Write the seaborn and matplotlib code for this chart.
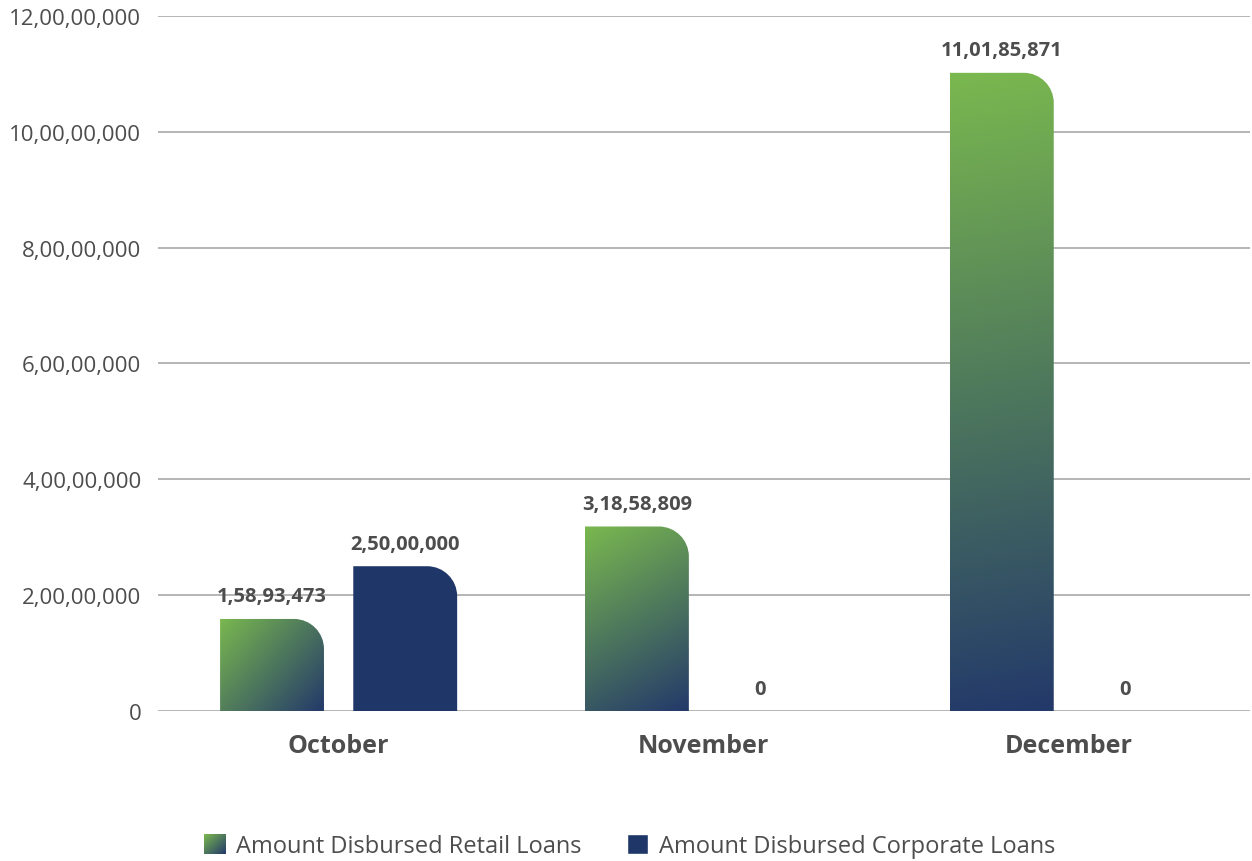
import numpy as np
import pandas as pd
import matplotlib
matplotlib.use("Agg")
import matplotlib.pyplot as plt
import seaborn as sns
from matplotlib.path import Path
from matplotlib.patches import PathPatch, Patch
from matplotlib.colors import LinearSegmentedColormap
from matplotlib.legend_handler import HandlerBase
from matplotlib.image import BboxImage
from matplotlib.transforms import Bbox, TransformedBbox

# ---- data ----
months = ["October", "November", "December"]
retail = [15893473, 31858809, 110185871]
corporate = [25000000, 0, 0]
series_names = ["Amount Disbursed Retail Loans", "Amount Disbursed Corporate Loans"]
ytick_values = [0, 20000000, 40000000, 60000000, 80000000, 100000000, 120000000]
ytick_labels = ["0", "2,00,00,000", "4,00,00,000", "6,00,00,000",
                "8,00,00,000", "10,00,00,000", "12,00,00,000"]

GREEN = "#7ab84f"
NAVY = "#1f3768"
TEXT = "#4d4d4d"
GRID = "#b5b5b5"

grad_cmap = LinearSegmentedColormap.from_list("retail_grad", [GREEN, "#23396a"])


def indian_format(v):
    s = str(int(v))
    if len(s) <= 3:
        return s
    last3 = s[-3:]
    rest = s[:-3]
    parts = []
    while len(rest) > 2:
        parts.insert(0, rest[-2:])
        rest = rest[:-2]
    if rest:
        parts.insert(0, rest)
    return ",".join(parts + [last3])


df = pd.DataFrame({
    "month": months * 2,
    "amount": retail + corporate,
    "series": [series_names[0]] * 3 + [series_names[1]] * 3,
})

sns.set_style("white")
plt.rcParams["font.family"] = ["Open Sans", "DejaVu Sans"]

fig = plt.figure(figsize=(12.52, 8.62), dpi=100)
ax = fig.add_axes([0.1262, 0.174, 0.872, 0.8063])

sns.barplot(data=df, x="month", y="amount", hue="series", order=months,
            hue_order=series_names, palette=[GREEN, NAVY], saturation=1,
            width=0.73, dodge=True, gap=0.22, ax=ax, legend=False,
            errorbar=None)

ax.set_xlim(-0.495, 2.497)
ax.set_ylim(0, 120000000)
ax.set_yticks(ytick_values)
ax.set_yticklabels(ytick_labels)
ax.yaxis.grid(True, color=GRID, linewidth=1.4)
ax.set_axisbelow(True)
for s in ax.spines.values():
    s.set_visible(False)
ax.tick_params(axis="y", length=0, pad=12, labelsize=16, labelcolor=TEXT)
ax.tick_params(axis="x", length=0, pad=16, labelsize=18, labelcolor=TEXT)
for t in ax.get_xticklabels():
    t.set_fontweight("bold")
ax.set_xlabel("")
ax.set_ylabel("")

# corner radius in pixels, converted into data units
px_per_x = ax.get_window_extent().width / (ax.get_xlim()[1] - ax.get_xlim()[0])
px_per_y = ax.get_window_extent().height / (ax.get_ylim()[1] - ax.get_ylim()[0])
radius_px = 30
K = 0.5523


def rounded_bar_path(x0, x1, top):
    rx = radius_px / px_per_x
    ry = min(radius_px / px_per_y, top)
    verts = [
        (x0, 0), (x0, top), (x1 - rx, top),
        (x1 - rx + K * rx, top), (x1, top - ry + K * ry), (x1, top - ry),
        (x1, 0), (x0, 0),
    ]
    codes = [Path.MOVETO, Path.LINETO, Path.LINETO,
             Path.CURVE4, Path.CURVE4, Path.CURVE4,
             Path.LINETO, Path.CLOSEPOLY]
    return Path(verts, codes)


def corner_gradient(w_px, h_px, n=200):
    """Linear gradient running from the top-left to the bottom-right corner."""
    u = np.linspace(0, 1, n)
    U, V = np.meshgrid(u, u)
    t = (U * w_px ** 2 + V * h_px ** 2) / (w_px ** 2 + h_px ** 2)
    return grad_cmap(t)[..., :3]


for ci, container in enumerate(ax.containers):
    is_retail = ci == 0
    for bar in container:
        h = bar.get_height()
        x0 = bar.get_x()
        x1 = x0 + bar.get_width()
        bar.set_visible(False)
        if h > 0:
            path = rounded_bar_path(x0, x1, h)
            if is_retail:
                clip = PathPatch(path, facecolor="none", edgecolor="none",
                                 transform=ax.transData)
                ax.add_patch(clip)
                img = corner_gradient((x1 - x0) * px_per_x, h * px_per_y)
                im = ax.imshow(img, extent=(x0, x1, 0, h), origin="upper",
                               aspect="auto", interpolation="bilinear", zorder=2)
                im.set_clip_path(clip)
            else:
                ax.add_patch(PathPatch(path, facecolor=NAVY, edgecolor="none",
                                       zorder=2))
        dx = -7 if h == 0 else 0
        ax.annotate(indian_format(h), xy=(x0 + (x1 - x0) / 2, h),
                    xytext=(dx, 9), textcoords="offset points", ha="center",
                    va="bottom", fontsize=14.5, fontweight="bold", color=TEXT,
                    zorder=5)

ax.set_xlim(-0.495, 2.497)
ax.set_ylim(0, 120000000)

legend_swatch = corner_gradient(1.0, 1.0)


class GradientHandler(HandlerBase):
    def create_artists(self, legend, orig_handle, xdescent, ydescent,
                       width, height, fontsize, trans):
        bb = Bbox.from_bounds(-xdescent, -ydescent, width, height)
        img = BboxImage(TransformedBbox(bb, trans), interpolation="bilinear")
        img.set_data(legend_swatch)
        return [img]


retail_handle = Patch(facecolor=GREEN, label=series_names[0])
corp_handle = Patch(facecolor=NAVY, label=series_names[1])
fig.legend(handles=[retail_handle, corp_handle], labels=series_names,
           handler_map={retail_handle: GradientHandler()},
           loc="center", bbox_to_anchor=(0.503, 0.0175), ncol=2, frameon=False,
           fontsize=17, labelcolor=TEXT, handlelength=0.92, handleheight=0.92,
           handletextpad=0.45, columnspacing=1.9)

fig.savefig("out.png", dpi=100)
